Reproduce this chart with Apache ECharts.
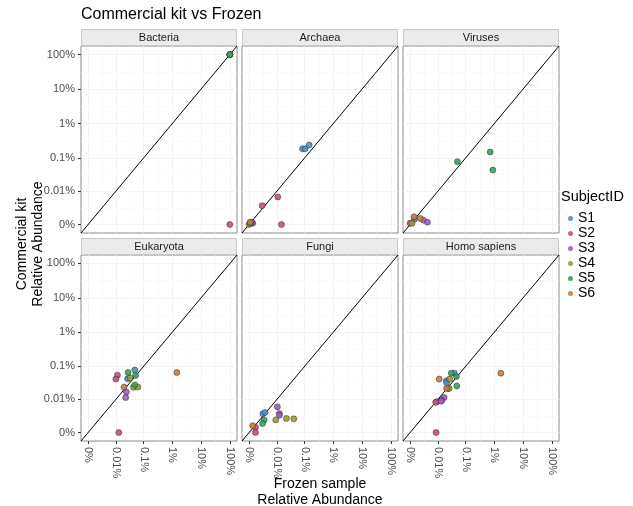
<!DOCTYPE html>
<html>
<head>
<meta charset="utf-8">
<script src="https://cdn.jsdelivr.net/npm/echarts@6/dist/echarts.min.js"></script>
<style>html,body{margin:0;padding:0;background:#fff}#c{width:633px;height:506px}</style>
</head>
<body>
<div id="c"></div>
<script>
// ---- data (values in percent) ----
const tickVals = [0, 0.01, 0.1, 1, 10, 100];
const tickLabels = ['0%', '0.01%', '0.1%', '1%', '10%', '100%'];
const subjects = ['S1', 'S2', 'S3', 'S4', 'S5', 'S6'];
const subjectColors = ['#4f8fc4', '#c8507c', '#a25cc2', '#9c9a30', '#3e9e5e', '#c27c40'];
const panels = ['Bacteria', 'Archaea', 'Viruses', 'Eukaryota', 'Fungi', 'Homo sapiens'];

const bacteriaSubject = ['S1', 'S2', 'S3', 'S4', 'S5'];
const bacteriaFrozen  = [99.4, 99.2, 99.3, 99.4, 99.3];
const bacteriaKit     = [99.3, 0, 99.4, 99.3, 99.4];

const archaeaSubject = ['S1', 'S1', 'S1', 'S2', 'S2', 'S2', 'S4', 'S5', 'S6', 'S3', 'S3'];
const archaeaFrozen  = [0.085, 0.105, 0.145, 0.0107, 0.0022, 0.0147, 0, 0.0001, 0.0001, 0.0004, 0.0003];
const archaeaKit     = [0.185, 0.185, 0.238, 0.0063, 0.003, 0, 0, 0.0001, 0.0002, 0.0001, 0.0002];

const virusesSubject = ['S5', 'S5', 'S5', 'S6', 'S6', 'S3', 'S3', 'S1', 'S4', 'S2'];
const virusesFrozen  = [0.72, 0.0515, 0.89, 0.00045, 0.0015, 0.0023, 0.0036, 0.0005, 0.0002, 0];
const virusesKit     = [0.15, 0.078, 0.044, 0.0008, 0.0006, 0.0004, 0.0002, 0.0005, 0.0001, 0.0001];

const eukaryotaSubject = ['S1', 'S1', 'S2', 'S2', 'S2', 'S5', 'S5', 'S5', 'S4', 'S4', 'S4', 'S6', 'S6', 'S3', 'S3'];
const eukaryotaFrozen  = [0.049, 0.027, 0.0113, 0.0098, 0.0128, 0.028, 0.052, 0.049, 0.033, 0.044, 0.063, 1.44, 0.020, 0.0244, 0.023];
const eukaryotaKit     = [0.0775, 0.043, 0.055, 0.042, 0, 0.066, 0.054, 0.028, 0.045, 0.0236, 0.024, 0.066, 0.024, 0.017, 0.0113];

const fungiSubject = ['S1', 'S1', 'S3', 'S3', 'S3', 'S4', 'S4', 'S4', 'S5', 'S5', 'S6', 'S2', 'S2'];
const fungiFrozen  = [0.0024, 0.0031, 0.0103, 0.0123, 0.0123, 0.0089, 0.0225, 0.0416, 0.0028, 0.0023, 0.0004, 0.0008, 0.0008];
const fungiKit     = [0.003, 0.0034, 0.0055, 0.0031, 0.0026, 0.0016, 0.0019, 0.0018, 0.0016, 0.001, 0.0007, 0.0005, 0];

const homoSubject = ['S1', 'S1', 'S1', 'S5', 'S5', 'S5', 'S6', 'S6', 'S6', 'S4', 'S4', 'S4', 'S3', 'S3', 'S3', 'S2', 'S2', 'S2'];
const homoFrozen  = [0.040, 0.0206, 0.021, 0.031, 0.0475, 0.049, 0.011, 0.021, 1.69, 0.0274, 0.0244, 0.026, 0.017, 0.0139, 0.0131, 0.0089, 0.0081, 0.0084];
const homoKit     = [0.063, 0.0374, 0.0327, 0.063, 0.050, 0.026, 0.042, 0.022, 0.063, 0.042, 0.0216, 0.022, 0.0113, 0.0092, 0.0086, 0.0082, 0.0079, 0];

const panelData = [
  [bacteriaSubject, bacteriaFrozen, bacteriaKit],
  [archaeaSubject, archaeaFrozen, archaeaKit],
  [virusesSubject, virusesFrozen, virusesKit],
  [eukaryotaSubject, eukaryotaFrozen, eukaryotaKit],
  [fungiSubject, fungiFrozen, fungiKit],
  [homoSubject, homoFrozen, homoKit]
];

// ---- pseudo-log transform ----
const OFFSET = 0.0012;
const T = v => Math.log10(v + OFFSET);
const tMin0 = T(tickVals[0]), tMax0 = T(tickVals[tickVals.length - 1]);
const pad = (tMax0 - tMin0) * 0.05;
const AX_MIN = tMin0 - pad, AX_MAX = tMax0 + pad;
const tickT = tickVals.map(T);
const labelFor = v => {
  for (let i = 0; i < tickT.length; i++) if (Math.abs(tickT[i] - v) < 1e-6) return tickLabels[i];
  return '';
};
const minorT = [];
for (let i = 0; i < tickT.length - 1; i++) minorT.push((tickT[i] + tickT[i + 1]) / 2);

// ---- layout ----
const colLeft = [81, 242, 403];
const rowTop = [46, 255];
const pw = 156, ph = [187, 186];
const stripH = 17;

const grids = [], xAxes = [], yAxes = [], series = [], graphics = [];
const font = 'Liberation Sans, Arial, sans-serif';

panels.forEach((name, p) => {
  const r = Math.floor(p / 3), c = p % 3;
  grids.push({
    left: colLeft[c], top: rowTop[r], width: pw, height: ph[r],
    show: true, borderColor: '#8a8a8a', borderWidth: 1, backgroundColor: '#fff'
  });
  const common = {
    type: 'value', min: AX_MIN, max: AX_MAX, gridIndex: p,
    axisLine: { show: false, onZero: false },
    axisTick: { show: true, length: 3, lineStyle: { color: '#333' }, customValues: tickT },
    splitLine: { show: true, lineStyle: { color: '#f0f0f0', width: 0.8 } },
    minorSplitLine: { show: false }
  };
  xAxes.push(Object.assign({}, common, {
    position: 'bottom',
    axisTick: Object.assign({}, common.axisTick, { show: r === 1 }),
    axisLabel: {
      show: r === 1, customValues: tickT, rotate: -90, margin: 6,
      fontSize: 11, color: '#4d4d4d', fontFamily: font, formatter: labelFor
    }
  }));
  yAxes.push(Object.assign({}, common, {
    position: 'left',
    axisTick: Object.assign({}, common.axisTick, { show: c === 0 }),
    axisLabel: {
      show: c === 0, customValues: tickT, margin: 6,
      fontSize: 11, color: '#4d4d4d', fontFamily: font, formatter: labelFor
    }
  }));
  // minor grid + diagonal
  series.push({
    type: 'line', xAxisIndex: p, yAxisIndex: p, silent: true, symbol: 'none', z: 3,
    lineStyle: { color: '#000', width: 1 },
    data: [[AX_MIN, AX_MIN], [AX_MAX, AX_MAX]],
    markLine: {
      silent: true, symbol: 'none', label: { show: false }, z: 1,
      lineStyle: { color: '#f6f6f6', width: 0.6, type: 'solid' },
      data: minorT.map(v => ({ xAxis: v })).concat(minorT.map(v => ({ yAxis: v })))
    }
  });
  const [subj, fx, ky] = panelData[p];
  subjects.forEach((s, si) => {
    const pts = [];
    subj.forEach((ss, i) => { if (ss === s) pts.push([T(fx[i]), T(ky[i])]); });
    series.push({
      name: s, type: 'scatter', xAxisIndex: p, yAxisIndex: p, z: 4,
      symbol: 'circle', symbolSize: 6,
      itemStyle: { color: subjectColors[si], borderColor: '#222', borderWidth: 0.5, opacity: 0.9 },
      data: pts
    });
  });
  // strip
  graphics.push({
    type: 'rect', shape: { x: colLeft[c] + 0.5, y: rowTop[r] - stripH + 0.5, width: pw - 1, height: stripH - 1 },
    style: { fill: '#ebebeb', stroke: '#c8c8c8', lineWidth: 1 }, silent: true
  });
  graphics.push({
    type: 'text', x: colLeft[c] + pw / 2, y: rowTop[r] - stripH / 2,
    style: { text: name, fontSize: 11, fontFamily: font, fill: '#1a1a1a', align: 'center', verticalAlign: 'middle' }
  });
});

graphics.push({
  type: 'text', x: 81, y: 15,
  style: { text: 'Commercial kit vs Frozen', fontSize: 16, fontFamily: font, fill: '#000', align: 'left', verticalAlign: 'middle' }
});
graphics.push({
  type: 'text', x: 30, y: 244, rotation: Math.PI / 2,
  style: { text: 'Commercial kit\nRelative Abundance', fontSize: 14, lineHeight: 16, fontFamily: font, fill: '#000', align: 'center', verticalAlign: 'middle' }
});
graphics.push({
  type: 'text', x: 320, y: 492,
  style: { text: 'Frozen sample\nRelative Abundance', fontSize: 14, lineHeight: 16, fontFamily: font, fill: '#000', align: 'center', verticalAlign: 'middle' }
});
graphics.push({
  type: 'text', x: 561, y: 197,
  style: { text: 'SubjectID', fontSize: 14.5, fontFamily: font, fill: '#000', align: 'left', verticalAlign: 'middle' }
});

const chart = echarts.init(document.getElementById('c'), null, { renderer: 'canvas' });
chart.setOption({
  animation: false,
  backgroundColor: '#fff',
  grid: grids,
  xAxis: xAxes,
  yAxis: yAxes,
  legend: {
    data: subjects, orient: 'vertical', left: 563, top: 206,
    icon: 'circle', itemWidth: 5, itemHeight: 5, itemGap: 0, itemTextGap: 11,
    textStyle: { fontSize: 14, lineHeight: 15, fontFamily: font, color: '#000' },
    itemStyle: { borderWidth: 0 }
  },
  series: series,
  graphic: graphics
});
</script>
</body>
</html>
